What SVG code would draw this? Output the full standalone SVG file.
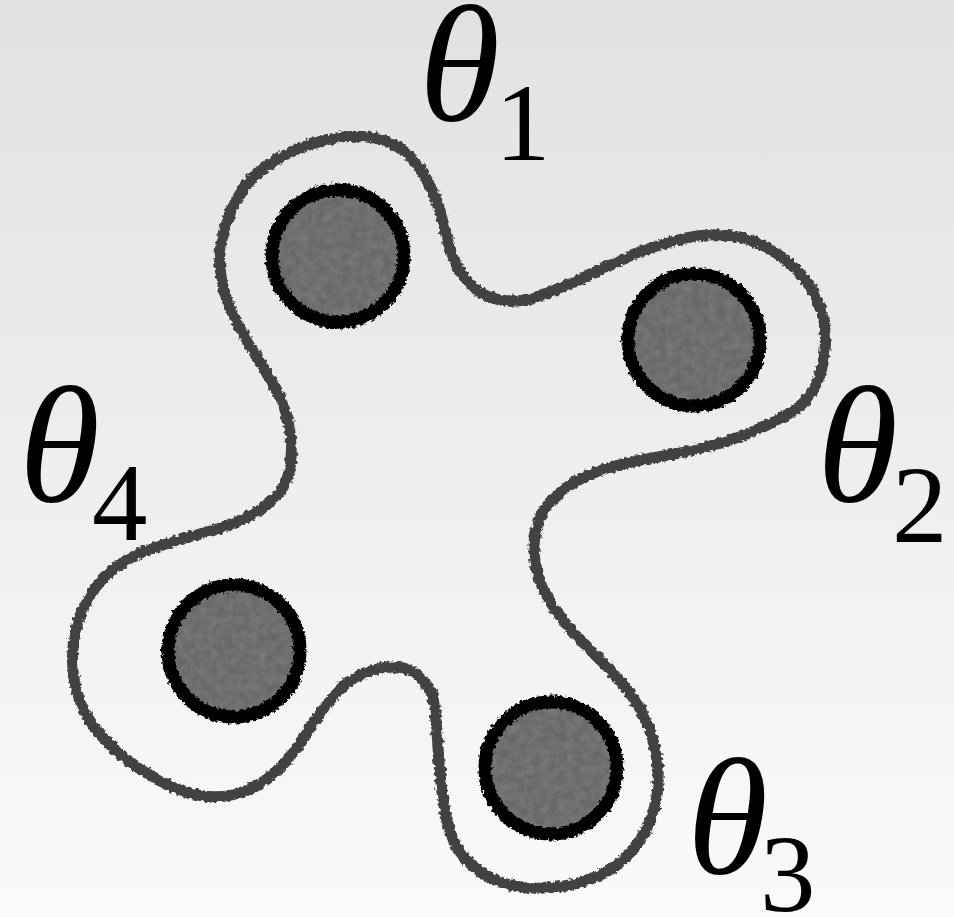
<svg xmlns="http://www.w3.org/2000/svg" width="954" height="917" viewBox="0 0 954 917">
  <defs>
    <linearGradient id="bg" x1="0" y1="0" x2="0" y2="1">
      <stop offset="0" stop-color="#e1e1e1"/>
      <stop offset="1" stop-color="#fafafa"/>
    </linearGradient>
    <filter id="rough" x="-5%" y="-5%" width="110%" height="110%">
      <feTurbulence type="fractalNoise" baseFrequency="0.25" numOctaves="2" seed="4" result="n"/>
      <feDisplacementMap in="SourceGraphic" in2="n" scale="6" xChannelSelector="R" yChannelSelector="G"/>
    </filter>
    <filter id="ring" x="-10%" y="-10%" width="120%" height="120%">
      <feTurbulence type="fractalNoise" baseFrequency="0.3" numOctaves="2" seed="9" result="n"/>
      <feDisplacementMap in="SourceGraphic" in2="n" scale="6" xChannelSelector="R" yChannelSelector="G"/>
    </filter>
    <filter id="tex" x="-5%" y="-5%" width="110%" height="110%">
      <feTurbulence type="fractalNoise" baseFrequency="0.12" numOctaves="3" seed="2" result="t"/>
      <feColorMatrix in="t" type="matrix" values="0 0 0 0 0.33  0 0 0 0 0.33  0 0 0 0 0.33  0 0 0 0.45 -0.12" result="tg"/>
      <feComposite in="tg" in2="SourceGraphic" operator="atop"/>
    </filter>
    <style>
      .blob { fill: none; stroke: #434343; stroke-width: 11; stroke-linejoin: round; }
      .fill { fill: #686868; stroke: none; }
      .edge { fill: none; stroke: #000; stroke-width: 13; }
      .th { font-family: "Liberation Serif", "Times New Roman", serif; font-style: italic; font-size: 165px; fill: #000; }
      .sub { font-family: "Liberation Serif", "Times New Roman", serif; font-size: 111px; fill: #000; }
    </style>
  </defs>
  <rect width="954" height="917" fill="url(#bg)"/>

  <g id="outline" filter="url(#rough)">
    <path class="blob" d="M311.5,144 Q340,135 362.5,136.5 Q385,138 400,148 Q415,158 426.5,179 Q438,200 443,222.5 Q448,245 455,261.5 Q462,278 473.5,287.5 Q485,297 500,300 Q515,303 532.5,298 Q550,293 575,281.5 Q600,270 625,258.5 Q650,247 675,240.5 Q700,234 722.5,235 Q745,236 765,246.5 Q785,257 800,273.5 Q815,290 821,310 Q827,330 825,350 Q823,370 815,386.5 Q807,403 790,413 Q773,423 753,431.5 Q733,440 708,446.5 Q683,453 658,457 Q633,461 611.5,467 Q590,473 573.5,483 Q557,493 548.5,504 Q540,515 536,531 Q532,547 536,567 Q540,587 553.5,607 Q567,627 585,644.5 Q603,662 620,681 Q637,700 645,718.5 Q653,737 656.5,757 Q660,777 656.5,798.5 Q653,820 640,840 Q627,860 607,871.5 Q587,883 562,886.5 Q537,890 517,886.5 Q497,883 480,871.5 Q463,860 455,843.5 Q447,827 443.5,803.5 Q440,780 438.5,755 Q437,730 435,710 Q433,690 421.5,678.5 Q410,667 393.5,667 Q377,667 360,675 Q343,683 328,703 Q313,723 300,743 Q287,763 270,776.5 Q253,790 231.5,795 Q210,800 185,791.5 Q160,783 138.5,768 Q117,753 102,736.5 Q87,720 79.5,700 Q72,680 72.5,655 Q73,630 83,608.5 Q93,587 110,572 Q127,557 152,548.5 Q177,540 202,533.5 Q227,527 247,517 Q267,507 278.5,493.5 Q290,480 291,460 Q292,440 288.5,422.5 Q285,405 275,387.5 Q265,370 252.5,350 Q240,330 231,310 Q222,290 220,267.5 Q218,245 229,216 Q240,187 261.5,170 Q283,153 311.5,144 Z"/>
  </g>

  <g id="node1"><circle class="fill" filter="url(#tex)" cx="338" cy="256" r="67"/><circle class="edge" filter="url(#ring)" cx="338" cy="256" r="66"/></g>
  <g id="node2"><circle class="fill" filter="url(#tex)" cx="694" cy="340" r="67"/><circle class="edge" filter="url(#ring)" cx="694" cy="340" r="66"/></g>
  <g id="node3"><circle class="fill" filter="url(#tex)" cx="234" cy="651" r="67"/><circle class="edge" filter="url(#ring)" cx="234" cy="651" r="66"/></g>
  <g id="node4"><circle class="fill" filter="url(#tex)" cx="551" cy="768" r="67"/><circle class="edge" filter="url(#ring)" cx="551" cy="768" r="66"/></g>

  <g id="label1"><text class="th" x="419" y="120">θ</text><text class="sub" x="495" y="160">1</text></g>
  <g id="label2"><text class="th" x="817" y="501">θ</text><text class="sub" x="892" y="542">2</text></g>
  <g id="label3"><text class="th" x="687" y="873">θ</text><text class="sub" x="760" y="911">3</text></g>
  <g id="label4"><text class="th" x="19" y="501">θ</text><text class="sub" x="92" y="540">4</text></g>
</svg>
